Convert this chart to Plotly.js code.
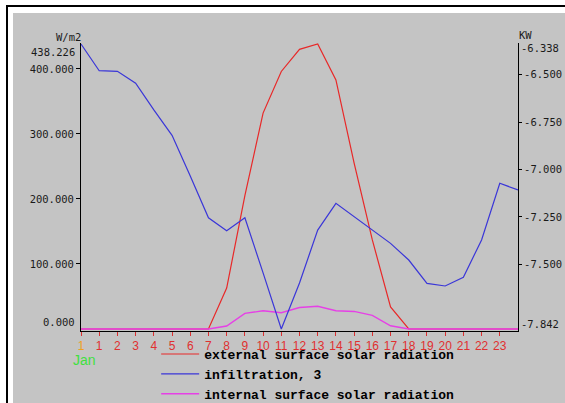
<!DOCTYPE html>
<html>
<head>
<meta charset="utf-8">
<script src="https://cdn.plot.ly/plotly-3.0.1.min.js"></script>
<style>
  html, body { margin: 0; padding: 0; background: #ffffff; width: 565px; height: 403px; overflow: hidden; }
  #frame { position: absolute; left: 6px; top: 5px; width: 600px; height: 420px; border-left: 2px solid #000; border-top: 2px solid #000; }
  #chart { position: absolute; left: 13px; top: 13px; width: 552px; height: 390px; }
</style>
</head>
<body>
<div id="frame"></div>
<div id="chart"></div>
<script>
// Hours of the day (x categories)
const hours = [0,1,2,3,4,5,6,7,8,9,10,11,12,13,14,15,16,17,18,19,20,21,22,23,24];
const hourTickVals = [0,1,2,3,4,5,6,7,8,9,10,11,12,13,14,15,16,17,18,19,20,21,22,23];
const hourTickText = ['1','1','2','3','4','5','6','7','8','9','10','11','12','13','14','15','16','17','18','19','20','21','22','23'];

// Series (left axis W/m2)
const externalSolar = [0,0,0,0,0,0,0,0,63,205,332,396,430,438.226,383,255,137,34,0,0,0,0,0,0,0];
const internalSolar = [0,0,0,0,0,0,0,0,4.6,24,28,25,33,35,28,27,21,5,0,0,0,0,0,0,0];
// Series (right axis KW)
const infiltration = [-6.338,-6.479,-6.482,-6.545,-6.686,-6.820,-7.035,-7.255,-7.323,-7.255,-7.546,-7.842,-7.599,-7.320,-7.179,-7.251,-7.322,-7.390,-7.478,-7.601,-7.615,-7.569,-7.372,-7.073,-7.108];

// Axis ticks
const leftTickVals = [100,200,300,400];
const leftTickText = ['100.000','200.000','300.000','400.000'];
const leftMax = 438.226, leftMin = 0;
const rightTickVals = [-6.5,-6.75,-7.0,-7.25,-7.5];
const rightTickText = ['-6.500','-6.750','-7.000','-7.250','-7.500'];
const rightMax = -6.338, rightMin = -7.842;

const names = ['external surface solar radiation','infiltration, 3','internal surface solar radiation'];
const colors = ['#e82828','#3a36d8','#e640e6'];

const gray = '#c4c4c4';
const numFont = {family: 'DejaVu Sans Mono', size: 10.5, color: '#1a1a1a'};

// range padding so the axis line sits 2px below the zero data line
const padTopL = (leftMax - leftMin) / 285 * 1;
const padBotL = (leftMax - leftMin) / 285 * 2;
const padTopR = (rightMax - rightMin) / 285 * 1;
const padBotR = (rightMax - rightMin) / 285 * 2;

const traces = [
  {x: hours, y: externalSolar, name: names[0], type: 'scatter', mode: 'lines',
   line: {color: colors[0], width: 1.2}, yaxis: 'y', legendgroup: 'a'},
  {x: hours, y: infiltration, name: names[1], type: 'scatter', mode: 'lines',
   line: {color: colors[1], width: 1.2}, yaxis: 'y2', legendgroup: 'b'},
  {x: hours, y: internalSolar, name: names[2], type: 'scatter', mode: 'lines',
   line: {color: colors[2], width: 1.4}, yaxis: 'y', legendgroup: 'c'}
];

const layout = {
  width: 552, height: 390,
  margin: {l: 68, r: 47, t: 30, b: 72, autoexpand: false},
  paper_bgcolor: gray, plot_bgcolor: gray,
  showlegend: true,
  legend: {
    x: 0.172, xanchor: 'left', y: -0.028, yanchor: 'top',
    bgcolor: 'rgba(0,0,0,0)', borderwidth: 0,
    font: {family: 'Liberation Mono', size: 13, color: '#000', weight: 'bold'},
    tracegroupgap: 2, traceorder: 'normal', itemwidth: 38
  },
  xaxis: {
    range: [0, 24], showgrid: false, zeroline: false,
    showline: true, linecolor: '#000', linewidth: 1,
    ticks: 'outside', ticklen: 4, tickcolor: '#d83030', tickwidth: 1,
    tickvals: hourTickVals,
    ticktext: hourTickText.map((t, i) => i === 0 ? '<span style="color:#f0a020">' + t + '</span>' : t),
    tickfont: {family: 'Liberation Sans', size: 12, color: '#e03030'},
    fixedrange: true
  },
  yaxis: {
    range: [leftMin - padBotL, leftMax + padTopL], showgrid: false, zeroline: false,
    showline: true, linecolor: '#000', linewidth: 1,
    ticks: 'outside', ticklen: 4, tickcolor: '#000',
    tickvals: leftTickVals, ticktext: leftTickText, tickfont: numFont,
    fixedrange: true
  },
  yaxis2: {
    overlaying: 'y', side: 'right', anchor: 'x',
    range: [rightMin - padBotR, rightMax + padTopR], showgrid: false, zeroline: false,
    showline: true, linecolor: '#000', linewidth: 1,
    ticks: 'outside', ticklen: 3, tickcolor: '#000',
    tickvals: rightTickVals, ticktext: rightTickText, tickfont: numFont,
    fixedrange: true
  },
  annotations: [
    {text: 'W/m2', xref: 'paper', yref: 'paper', x: 0, y: 1, xanchor: 'right', yanchor: 'bottom',
     xshift: 2, yshift: -2, showarrow: false, font: numFont},
    {text: 'KW', xref: 'paper', yref: 'paper', x: 1, y: 1, xanchor: 'left', yanchor: 'bottom',
     xshift: -1, yshift: 0, showarrow: false, font: numFont},
    {text: leftMax.toFixed(3), xref: 'paper', yref: 'y', x: 0, y: leftMax, xanchor: 'right', yanchor: 'middle',
     xshift: -4, yshift: -8, showarrow: false, font: numFont},
    {text: leftMin.toFixed(3), xref: 'paper', yref: 'y', x: 0, y: leftMin, xanchor: 'right', yanchor: 'middle',
     xshift: -4, yshift: 7, showarrow: false, font: numFont},
    {text: rightMax.toFixed(3), xref: 'paper', yref: 'y2', x: 1, y: rightMax, xanchor: 'left', yanchor: 'middle',
     xshift: 1, yshift: -4, showarrow: false, font: numFont},
    {text: rightMin.toFixed(3), xref: 'paper', yref: 'y2', x: 1, y: rightMin, xanchor: 'left', yanchor: 'middle',
     xshift: 1, yshift: 5, showarrow: false, font: numFont},
    {text: 'Jan', xref: 'x', yref: 'paper', x: 0, y: 0, xanchor: 'left', yanchor: 'middle',
     xshift: -10, yshift: -29, showarrow: false,
     font: {family: 'Liberation Sans', size: 14, color: '#40e040'}}
  ]
};

Plotly.newPlot('chart', traces, layout, {displayModeBar: false, staticPlot: true});
</script>
</body>
</html>
